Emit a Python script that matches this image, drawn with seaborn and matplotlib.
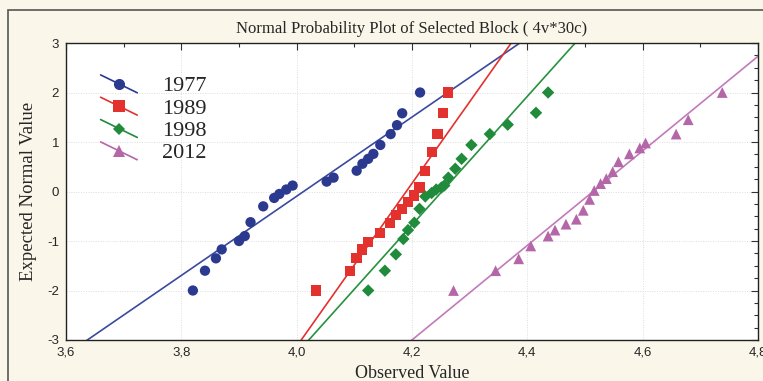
import numpy as np
import pandas as pd
import seaborn as sns
import matplotlib
matplotlib.use("Agg")
import matplotlib.pyplot as plt
from matplotlib.legend_handler import HandlerLine2D
from matplotlib.lines import Line2D
from matplotlib.patches import Rectangle
from matplotlib.ticker import MultipleLocator

# ---------------- data ----------------
years = ["1977", "1989", "1998", "2012"]

x_1977 = [3.820, 3.841, 3.860, 3.870, 3.900, 3.910, 3.920, 3.942, 3.961, 3.970,
          3.982, 3.993, 4.052, 4.064, 4.104, 4.114, 4.124, 4.133, 4.145, 4.163,
          4.174, 4.183, 4.214]
y_1977 = [-2.00, -1.60, -1.35, -1.17, -1.00, -0.90, -0.62, -0.30, -0.13, -0.05,
          0.04, 0.12, 0.20, 0.28, 0.42, 0.56, 0.66, 0.76, 0.94, 1.16,
          1.34, 1.58, 2.00]

x_1989 = [4.033, 4.092, 4.104, 4.113, 4.124, 4.145, 4.162, 4.172, 4.183, 4.193,
          4.204, 4.213, 4.223, 4.235, 4.244, 4.254, 4.263]
y_1989 = [-2.00, -1.60, -1.35, -1.17, -1.02, -0.84, -0.63, -0.48, -0.35, -0.21,
          -0.08, 0.08, 0.42, 0.80, 1.16, 1.58, 2.00]

x_1998 = [4.124, 4.153, 4.172, 4.185, 4.193, 4.204, 4.213, 4.223, 4.234, 4.242,
          4.251, 4.256, 4.263, 4.275, 4.286, 4.303, 4.335, 4.366, 4.415, 4.436]
y_1998 = [-2.00, -1.60, -1.27, -0.96, -0.78, -0.63, -0.35, -0.10, -0.03, 0.04,
          0.08, 0.12, 0.28, 0.46, 0.66, 0.94, 1.16, 1.35, 1.59, 2.00]

x_2012 = [4.272, 4.345, 4.385, 4.406, 4.436, 4.448, 4.467, 4.485, 4.497, 4.508,
          4.516, 4.527, 4.537, 4.548, 4.558, 4.577, 4.595, 4.605, 4.658, 4.679,
          4.738]
y_2012 = [-2.00, -1.60, -1.36, -1.10, -0.90, -0.78, -0.66, -0.56, -0.38, -0.16,
          0.02, 0.16, 0.26, 0.40, 0.60, 0.76, 0.88, 0.98, 1.16, 1.45, 2.00]

# fitted normal lines: observed = mean + sd * expected
fit_mean = [4.012, 4.190, 4.252, 4.514]
fit_sd = [0.125, 0.0607, 0.077, 0.1047]

x_ticks = [3.6, 3.8, 4.0, 4.2, 4.4, 4.6, 4.8]
x_ticklabels = ["3,6", "3,8", "4,0", "4,2", "4,4", "4,6", "4,8"]
y_ticks = [-3, -2, -1, 0, 1, 2, 3]
y_ticklabels = ["-3", "-2", "-1", "0", "1", "2", "3"]

title = "Normal Probability Plot of Selected Block ( 4v*30c)"
xlabel = "Observed Value"
ylabel = "Expected Normal Value"

# ---------------- styling ----------------
colors = {"1977": "#2B3A8F", "1989": "#E3312E", "1998": "#1F8B3B", "2012": "#B566A9"}
line_colors = {"1977": "#3A4A9E", "1989": "#E3312E", "1998": "#26923F", "2012": "#C27AB9"}
markers = {"1977": "o", "1989": "s", "1998": "D", "2012": "^"}
sizes = {"1977": 55, "1989": 55, "1998": 40, "2012": 60}

xs = [x_1977, x_1989, x_1998, x_2012]
ys = [y_1977, y_1989, y_1998, y_2012]
pts = pd.concat([pd.DataFrame({"year": yr, "obs": x, "exp": y})
                 for yr, x, y in zip(years, xs, ys)], ignore_index=True)

line_y = np.array([-3.2, 3.2])
lines = pd.concat([pd.DataFrame({"year": yr, "obs": m + s * line_y, "exp": line_y})
                   for yr, m, s in zip(years, fit_mean, fit_sd)], ignore_index=True)

sns.set_theme(style="white")
plt.rcParams["font.family"] = ["Liberation Serif", "DejaVu Serif"]

fig = plt.figure(figsize=(7.63, 3.81), dpi=100, facecolor="#FAF7EA")
ax = fig.add_axes([66 / 763, 1 - 340 / 381, (758 - 66) / 763, (340 - 43) / 381])
ax.set_facecolor("white")

fig.patches.append(Rectangle((8 / 763, -0.05), 1.05, 1.05 - 10 / 381, transform=fig.transFigure,
                             fill=False, edgecolor="#555555", linewidth=1.2, zorder=0))

ax.grid(True, which="major", color="#DDDDDD", linestyle=(0, (1, 1.5)), linewidth=0.7)

for yr in years:
    d = lines[lines.year == yr]
    sns.lineplot(data=d, x="obs", y="exp", ax=ax, color=line_colors[yr], linewidth=1.2,
                 sort=False, estimator=None, legend=False)
for yr in years:
    d = pts[pts.year == yr]
    sns.scatterplot(data=d, x="obs", y="exp", ax=ax, color=colors[yr], marker=markers[yr],
                    s=sizes[yr], edgecolor="none", linewidth=0, legend=False, zorder=3)

ax.set_xlim(3.6, 4.8)
ax.set_ylim(-3, 3)
ax.set_xticks(x_ticks)
ax.set_xticklabels(x_ticklabels, family="Liberation Sans", fontsize=9.5)
ax.set_yticks(y_ticks)
ax.set_yticklabels(y_ticklabels, family="Liberation Sans", fontsize=9.5)
ax.xaxis.set_minor_locator(MultipleLocator(0.1))
ax.yaxis.set_minor_locator(MultipleLocator(0.25))
ax.tick_params(which="both", direction="in", top=True, right=True, color="#333333",
               width=0.8)
ax.tick_params(axis="x", which="both", pad=5)
ax.tick_params(axis="y", which="both", pad=5)
ax.tick_params(which="major", length=5)
ax.tick_params(which="minor", length=3)
for sp in ax.spines.values():
    sp.set_color("#222222")
    sp.set_linewidth(1.0)

ax.set_title(title, fontsize=12, pad=7)
ax.set_xlabel(xlabel, fontsize=13, labelpad=4)
ax.set_ylabel(ylabel, fontsize=13.5, labelpad=7)


class DiagHandler(HandlerLine2D):
    def create_artists(self, legend, orig_handle, xdescent, ydescent, width, height,
                       fontsize, trans):
        c = orig_handle.get_color()
        ln = Line2D([-xdescent, width - xdescent],
                    [height * 1.05 - ydescent, -height * 0.1 - ydescent],
                    color=c, linewidth=1.2, transform=trans)
        mk = Line2D([width * 0.5 - xdescent], [height * 0.47 - ydescent],
                    marker=orig_handle.get_marker(), markersize=orig_handle.get_markersize(),
                    color=c, markeredgewidth=0, linestyle="none", transform=trans)
        return [ln, mk]


handles = [Line2D([], [], color=colors[yr], marker=markers[yr],
                  markersize=8 if yr != "1998" else 6.5) for yr in years]
leg = ax.legend(handles, years, handler_map={Line2D: DiagHandler()},
                loc="upper left", bbox_to_anchor=(0.05, 0.89), frameon=False,
                fontsize=16, handlelength=1.65, handletextpad=1.1, labelspacing=0.08,
                borderpad=0, borderaxespad=0)

fig.savefig("out.png", dpi=100, facecolor=fig.get_facecolor())
